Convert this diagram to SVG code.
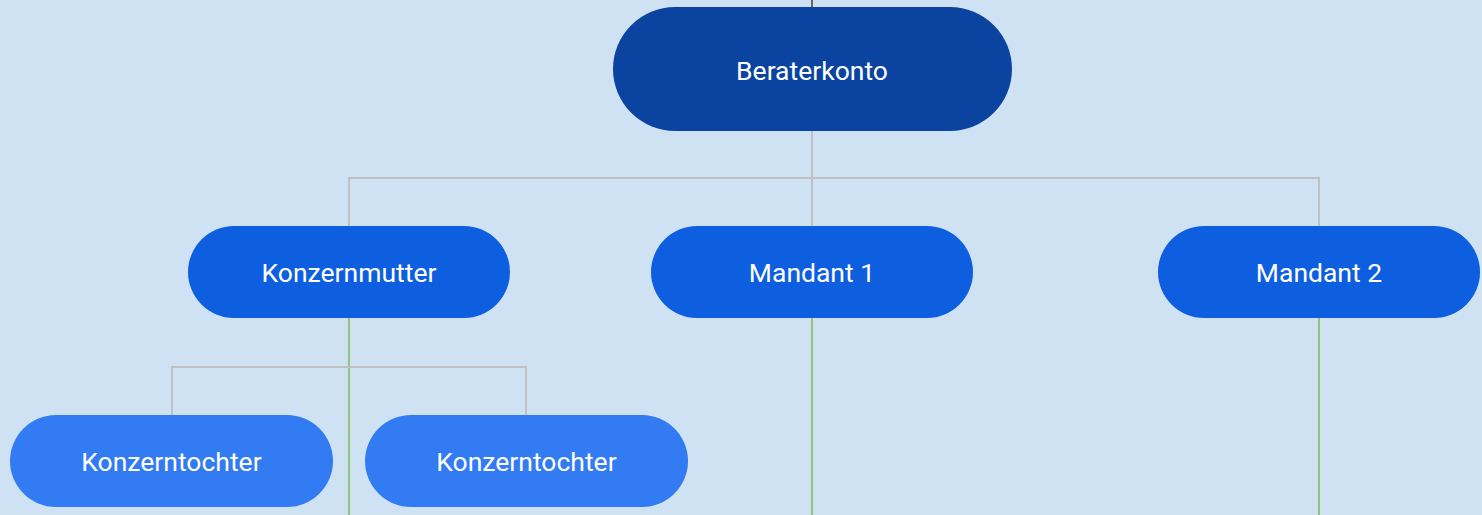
<svg xmlns="http://www.w3.org/2000/svg" width="1482" height="515" viewBox="0 0 1482 515">
<style>
.gray{stroke:#c0c0c0;stroke-width:2;fill:none}
.green{stroke:#93c47d;stroke-width:2;fill:none}
.dark{stroke:#666666;stroke-width:2;fill:none}
.lbl{font-family:Roboto,"Liberation Sans",sans-serif;font-size:26.5px;fill:#ffffff;text-anchor:middle}
.n0{fill:#0a44a0}
.n1{fill:#0e5fdf}
.n2{fill:#327bf3}
</style>
<rect width="1482" height="515" fill="#cfe2f3"/>
<g id="connectors">
<line class="dark" x1="812" y1="0" x2="812" y2="8"/>
<line class="gray" x1="812" y1="131" x2="812" y2="227"/>
<polyline class="gray" points="349,227 349,178 1319,178 1319,227"/>
<line class="green" x1="349" y1="318" x2="349" y2="515"/>
<line class="green" x1="812" y1="318" x2="812" y2="515"/>
<line class="green" x1="1319" y1="318" x2="1319" y2="515"/>
<polyline class="gray" points="172,416 172,367 526,367 526,416"/>
</g>
<g id="beraterkonto">
<rect class="n0" x="613" y="7" width="399" height="124" rx="62"/>
<text class="lbl" x="812" y="79.5">Beraterkonto</text>
</g>
<g id="konzernmutter">
<rect class="n1" x="188" y="226" width="322" height="92" rx="46"/>
<text class="lbl" x="349" y="281.5">Konzernmutter</text>
</g>
<g id="mandant1">
<rect class="n1" x="651" y="226" width="322" height="92" rx="46"/>
<text class="lbl" x="812" y="281.5">Mandant 1</text>
</g>
<g id="mandant2">
<rect class="n1" x="1158" y="226" width="322" height="92" rx="46"/>
<text class="lbl" x="1319" y="281.5">Mandant 2</text>
</g>
<g id="konzerntochter1">
<rect class="n2" x="10" y="415" width="323" height="92" rx="46"/>
<text class="lbl" x="171.5" y="470.5">Konzerntochter</text>
</g>
<g id="konzerntochter2">
<rect class="n2" x="365" y="415" width="323" height="92" rx="46"/>
<text class="lbl" x="526.5" y="470.5">Konzerntochter</text>
</g>
</svg>
